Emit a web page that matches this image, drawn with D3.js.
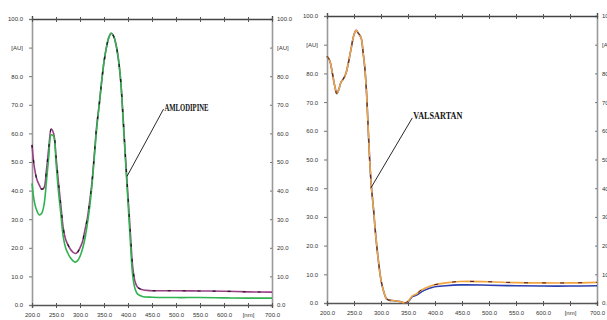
<!DOCTYPE html>
<html>
<head>
<meta charset="utf-8">
<script src="https://cdn.jsdelivr.net/npm/d3@7"></script>
<style>
  body { margin: 0; background: #fff; }
  .tick text { font-family: "Liberation Sans", Arial, sans-serif; font-size: 6px; fill: #333; }
  .lbl { font-family: "Liberation Serif", "Times New Roman", serif; font-weight: bold; font-size: 10px; fill: #111; }
</style>
</head>
<body>
<svg id="chart" width="607" height="320"></svg>
<script>
// x ticks (nm) and y ticks (AU), shared by both panels
const xTicks = [200, 250, 300, 350, 400, 450, 500, 550, 600, 650, 700];
const yTicks = [0, 10, 20, 30, 40, 50, 60, 70, 80, 90, 100];

// amlodipine spectrum
const amloWl = [200, 205, 210, 215, 220, 225, 230, 235, 240, 245, 250, 255, 260, 265, 270, 275, 280, 285, 290, 295,
  300, 305, 310, 315, 320, 325, 330, 335, 340, 345, 350, 355, 360, 365, 370, 375, 380, 385, 390, 395,
  400, 405, 410, 415, 420, 430, 450, 500, 550, 600, 650, 700];
const amloPurple = [56, 48, 44, 42, 40.5, 41, 47, 55, 61.5, 60, 52, 43, 35, 27, 23, 21, 19.5, 18.5, 18, 18.5,
  20, 22, 26, 30, 36, 43, 53, 63, 70, 78, 85, 90, 93.5, 95, 94, 91, 86, 78, 65, 51,
  38, 25, 13, 8, 6.2, 5.3, 5, 5, 4.9, 4.8, 4.6, 4.5];
const amloGreen = [42.5, 36, 33, 31.5, 32, 35, 43, 52, 59.5, 59, 50, 40, 32, 24, 20, 18, 16.5, 15.5, 15, 15.5,
  17, 19.5, 23, 28, 34, 42, 52, 62, 70, 78, 85, 90, 93.5, 95, 94, 91, 86, 78, 64, 50,
  36, 22, 10, 5.5, 3.8, 3, 2.7, 2.6, 2.6, 2.5, 2.4, 2.4];

// valsartan spectrum
const valWl = [200, 205, 210, 215, 218, 222, 226, 230, 235, 240, 245, 250, 254, 258, 263, 267, 270, 273, 276, 279,
  282, 286, 290, 295, 300, 305, 310, 315, 325, 335, 345, 352, 358, 366, 372, 380, 396, 420, 446, 500,
  550, 600, 650, 700];
const valOrange = [86, 84.5, 80, 75, 73, 74.5, 77, 78, 80, 84, 89, 93.5, 95, 94, 92.5, 87, 82, 74, 62, 50,
  41, 33, 24, 15, 8, 4, 1.5, 1, 0.8, 0.5, 0, 1, 2.5, 3.2, 4.2, 5, 6.2, 7, 7.5, 7.4,
  7.1, 7, 7, 7.2];
const valBlue = [86, 84.5, 80, 75, 73, 74.5, 77, 78, 80, 84, 89, 93.5, 95, 94, 92.5, 87, 82, 74, 62, 50,
  41, 33, 24, 15, 8, 4, 1.5, 1, 0.8, 0.5, 0, 0.8, 2.2, 2.8, 3.5, 4.4, 5.5, 6, 6.3, 6.2,
  6, 5.9, 5.9, 6];

// annotation: [wavelength, value] at the curve, then at the label
const amloNote = { text: "AMLODIPINE", from: [398, 45], to: [474, 68.5], width: 44 };
const valNote = { text: "VALSARTAN", from: [281, 40], to: [358, 64.5], width: 49 };

const svg = d3.select("#chart");

function drawPanel(box, series, note) {
  const x = d3.scaleLinear().domain([200, 700]).range([box.left, box.right]);
  const y = d3.scaleLinear().domain([0, 100]).range([box.bottom, box.top]);
  const g = svg.append("g");

  const fmtX = d => d === 650 ? "[nm]" : d.toFixed(1);
  const fmtY = d => d === 90 ? "[AU]" : d.toFixed(1);

  // frame: left/right grey, top dark, bottom dark
  g.append("g").attr("transform", `translate(${box.left},0)`)
    .call(d3.axisLeft(y).tickValues(yTicks).tickFormat(fmtY).tickSize(3).tickPadding(6))
    .call(a => a.select(".domain").attr("stroke", "#999").attr("stroke-width", 1.6))
    .call(a => a.selectAll(".tick line").attr("stroke", "#777"));

  g.append("g").attr("transform", `translate(${box.right},0)`)
    .call(d3.axisRight(y).tickValues(yTicks).tickFormat(fmtY).tickSize(-2).tickPadding(5))
    .call(a => a.select(".domain").attr("stroke", "#999").attr("stroke-width", 1.6))
    .call(a => a.selectAll(".tick line").attr("stroke", "#777"));

  g.append("g").attr("transform", `translate(0,${box.top})`)
    .call(d3.axisTop(x).tickValues(xTicks).tickFormat("").tickSize(3))
    .call(a => a.select(".domain").attr("stroke", "#444").attr("stroke-width", 1.4))
    .call(a => a.selectAll(".tick line").attr("stroke", "#555").attr("y2", 3).attr("y1", -2));

  g.append("g").attr("transform", `translate(0,${box.bottom})`)
    .call(d3.axisBottom(x).tickValues(xTicks).tickFormat(fmtX).tickSize(3).tickPadding(5))
    .call(a => a.select(".domain").attr("stroke", "#555").attr("stroke-width", 1.4))
    .call(a => a.selectAll(".tick line").attr("stroke", "#555").attr("y1", -2));

  const line = d3.line().x(d => x(d[0])).y(d => y(d[1])).curve(d3.curveCatmullRom);

  series.forEach(s => {
    g.append("path")
      .datum(s.wl.map((w, i) => [w, s.vals[i]]))
      .attr("fill", "none")
      .attr("stroke", s.color)
      .attr("stroke-width", s.width)
      .attr("stroke-dasharray", s.dash || null)
      .attr("d", line);
  });

  g.append("line")
    .attr("x1", x(note.from[0])).attr("y1", y(note.from[1]))
    .attr("x2", x(note.to[0])).attr("y2", y(note.to[1]))
    .attr("stroke", "#111").attr("stroke-width", 0.9);

  g.append("text")
    .attr("class", "lbl")
    .attr("x", x(note.to[0]) + 1)
    .attr("y", y(note.to[1]) + 1.5)
    .attr("textLength", note.width)
    .attr("lengthAdjust", "spacingAndGlyphs")
    .text(note.text);
}

drawPanel({ left: 32, right: 272, top: 19, bottom: 305 }, [
  { wl: amloWl, vals: amloPurple, color: "#9a3f86", width: 1.6 },
  { wl: amloWl, vals: amloGreen, color: "#2fb24f", width: 1.6 },
  { wl: amloWl, vals: amloPurple, color: "#1a1a1a", width: 1.2, dash: "3,12" }
], amloNote);

drawPanel({ left: 327, right: 597, top: 16, bottom: 303 }, [
  { wl: valWl, vals: valBlue, color: "#2a3fb0", width: 1.6 },
  { wl: valWl, vals: valOrange, color: "#f2a43e", width: 1.6 },
  { wl: valWl, vals: valOrange, color: "#3a1a30", width: 1.0, dash: "4,14" }
], valNote);
</script>
</body>
</html>
